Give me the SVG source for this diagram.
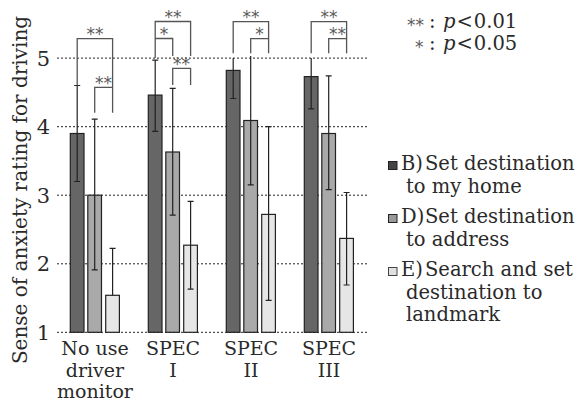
<svg xmlns="http://www.w3.org/2000/svg" width="586" height="403" viewBox="0 0 586 403">
<style>
text{font-family:"DejaVu Serif","Liberation Serif",serif;fill:#2a2a2a}
.lbl{font-size:19.5px}
.tick{font-size:21px;text-anchor:end}
.xl{font-size:19px;text-anchor:middle}
.grid{stroke:#222;stroke-width:1;stroke-dasharray:2,2;fill:none}
.b1{fill:#666;stroke:#222;stroke-width:1.2}
.b2{fill:#a9a9a9;stroke:#222;stroke-width:1.2}
.b3{fill:#e6e6e6;stroke:#222;stroke-width:1.2}
.err{stroke:#222;stroke-width:1.2;fill:none}
.br{stroke:#555;stroke-width:1.3;fill:none}
.ast{font-family:"DejaVu Sans",sans-serif;font-size:17px;fill:#5a5a5a;text-anchor:middle}
.k{font-family:"DejaVu Sans",sans-serif;font-size:17px;fill:#5a5a5a}
</style>
<rect width="586" height="403" fill="#fff"/>
<g id="grid">
<path class="grid" d="M57 58.1H369M57 126.7H369M57 195.2H369M57 263.8H369M57 332.3H369"/>
</g>
<g id="axis">
<text class="tick" x="50" y="65.5">5</text>
<text class="tick" x="50" y="134">4</text>
<text class="tick" x="50" y="202.5">3</text>
<text class="tick" x="50" y="271">2</text>
<text class="tick" x="50" y="339.5">1</text>
<text transform="translate(27,190) rotate(-90)" text-anchor="middle" font-size="20">Sense of anxiety rating for driving</text>
</g>
<g id="group-nouse">
<rect class="b1" x="70.3" y="133.5" width="13.7" height="198.8"/>
<rect class="b2" x="87.8" y="195.2" width="13.7" height="137.1"/>
<rect class="b3" x="105.7" y="295.3" width="13.7" height="37"/>
<text class="xl" x="95" y="355">No use</text>
<text class="xl" x="95" y="377">driver</text>
<text class="xl" x="95" y="398">monitor</text>
</g>
<g id="group-spec1">
<rect class="b1" x="148.3" y="95.1" width="13.7" height="237.2"/>
<rect class="b2" x="165.8" y="152" width="13.7" height="180.3"/>
<rect class="b3" x="183.7" y="245.2" width="13.7" height="87.1"/>
<text class="xl" x="173" y="355">SPEC</text>
<text class="xl" x="173" y="377">I</text>
</g>
<g id="group-spec2">
<rect class="b1" x="226.3" y="70.4" width="13.7" height="261.9"/>
<rect class="b2" x="243.8" y="120.5" width="13.7" height="211.8"/>
<rect class="b3" x="261.7" y="214.4" width="13.7" height="117.9"/>
<text class="xl" x="251" y="355">SPEC</text>
<text class="xl" x="251" y="377">II</text>
</g>
<g id="group-spec3">
<rect class="b1" x="304.3" y="76.6" width="13.7" height="255.7"/>
<rect class="b2" x="321.8" y="133.5" width="13.7" height="198.8"/>
<rect class="b3" x="339.7" y="238.4" width="13.7" height="93.9"/>
<text class="xl" x="329" y="355">SPEC</text>
<text class="xl" x="329" y="377">III</text>
</g>
<g id="connectors">
<path class="err" d="M77.2 85.5V181.5M74.2 85.5h6M74.2 181.5h6
M94.7 119.1V269.9M91.7 119.1h6M91.7 269.9h6
M112.6 248.3V295.3M109.6 248.3h6
M155.2 60.2V131.4M152.2 60.2h6M152.2 131.4h6
M172.7 88.3V215.1M169.7 88.3h6M169.7 215.1h6
M190.6 201.4V289.1M187.6 201.4h6M187.6 289.1h6
M233.2 58.1V98.5M230.2 98.5h6
M250.7 56V184.9M247.7 184.9h6
M268.6 126.7V300.4M265.6 126.7h6M265.6 300.4h6
M311.2 58.1V108.8M308.2 108.8h6
M328.7 75.9V189.7M325.7 75.9h6M325.7 189.7h6
M346.6 192.5V285M343.6 192.5h6M343.6 285h6"/>
<path class="br" d="M77.2 85.5V38.7H112.6V112.7
M94.7 112.7V87.3H112.6
M155.2 58V21.5H190.6V56
M155.2 38.5H172.7V56
M172.7 85V68.3H190.6V85
M233.2 53.3V21.7H268.6V53.3
M250.7 53.3V38.7H268.6
M311.2 53.3V21.7H346.6V53.3
M328.7 53.3V38.7H346.6"/>
<text class="ast" x="95" y="40">**</text>
<text class="ast" x="103.6" y="89">**</text>
<text class="ast" x="173" y="23">**</text>
<text class="ast" x="164" y="40">*</text>
<text class="ast" x="181.6" y="70">**</text>
<text class="ast" x="251" y="23">**</text>
<text class="ast" x="259.6" y="40">*</text>
<text class="ast" x="329" y="23">**</text>
<text class="ast" x="337.6" y="40">**</text>
</g>
<g id="significance-key">
<text class="lbl" x="407" y="28"><tspan class="k" dy="3">**</tspan><tspan x="429" dy="-3">:</tspan><tspan x="443" font-style="italic">p</tspan><tspan dx="1">&lt;</tspan><tspan dx="1">0.01</tspan></text>
<text class="lbl" x="415" y="50"><tspan class="k" dy="3">*</tspan><tspan x="429" dy="-3">:</tspan><tspan x="443" font-style="italic">p</tspan><tspan dx="1">&lt;</tspan><tspan dx="1">0.05</tspan></text>
</g>
<g id="legend-B">
<rect x="388.5" y="161.5" width="8.5" height="8" fill="#444" stroke="#222"/>
<text class="lbl" x="401" y="170">B)<tspan x="425">Set destination</tspan></text>
<text class="lbl" x="406" y="193">to my home</text>
</g>
<g id="legend-D">
<rect x="388.5" y="214.5" width="8.5" height="8" fill="#999" stroke="#222"/>
<text class="lbl" x="401" y="223">D)<tspan x="425">Set destination</tspan></text>
<text class="lbl" x="406" y="246">to address</text>
</g>
<g id="legend-E">
<rect x="388.5" y="267.5" width="8.5" height="8" fill="#e0e0e0" stroke="#444"/>
<text class="lbl" x="401" y="276">E)<tspan x="425">Search and set</tspan></text>
<text class="lbl" x="406" y="299">destination to</text>
<text class="lbl" x="406" y="321">landmark</text>
</g>
</svg>
